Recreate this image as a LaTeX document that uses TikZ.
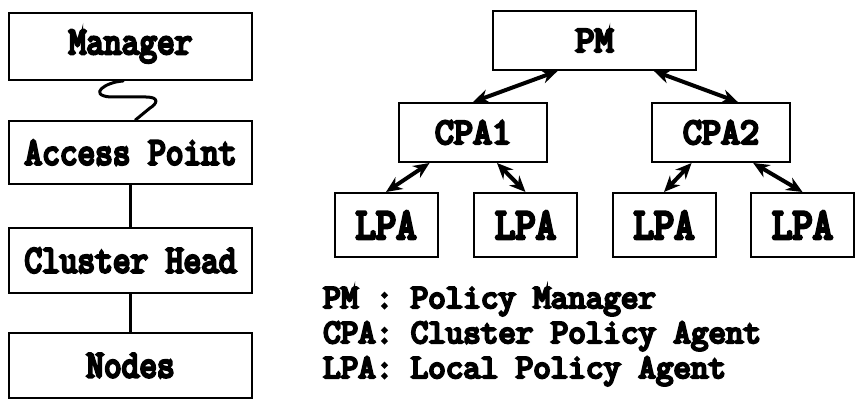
\documentclass[tikz,border=0pt]{standalone}
\usepackage{graphicx}
\usepackage{fontspec}
\usetikzlibrary{arrows.meta,calc}
% heavy typewriter face for all labels
\newfontfamily\heavytt[FakeBold=7]{Latin Modern Mono}
% condensed labels
\newcommand\squeezed[2]{\scalebox{#1}[1]{#2}}
\begin{document}
\begin{tikzpicture}[x=1pt,y=-1pt,
  box/.style={draw,line width=2pt,inner sep=0pt,align=center},
  leftbox/.style={box,minimum width=243pt,font=\heavytt\fontsize{39}{39}\selectfont},
  treebox/.style={box,minimum height=59pt,font=\heavytt\fontsize{37}{37}\selectfont},
  lpabox/.style={box,minimum width=103pt,minimum height=64pt,font=\heavytt\fontsize{44}{44}\selectfont},
  legend/.style={anchor=base west,inner sep=0pt,font=\heavytt\fontsize{34}{34}\selectfont},
  link/.style={line width=2.2pt},
  dual/.style={line width=4pt,{Stealth[length=16pt,width=14pt]}-{Stealth[length=16pt,width=14pt]}}]
\path[use as bounding box] (0,0) rectangle (863,409);

% management chain
\node[leftbox,minimum height=67pt] (mgr) at (130.5,46.5) {\squeezed{0.88}{Manager}};
\node[leftbox,minimum height=63pt] (ap)  at (130.5,152.5) {\squeezed{0.88}{Access Point}};
\node[leftbox,minimum height=65pt] (ch)  at (130.5,260.5) {\squeezed{0.88}{Cluster Head}};
\node[leftbox,minimum height=65pt] (nd)  at (130.5,365.5) {\squeezed{0.88}{Nodes}};

% wireless link between manager and access point
\coordinate (w1) at ($(mgr.south west)!0.47!(mgr.south east)$);
\coordinate (w2) at ($(ap.north west)!0.52!(ap.north east)$);
\draw[line width=3pt,line cap=round,line join=round] (w1) .. controls (105,82) and (88,95) .. (110,97)
  -- (146,97) .. controls (160,97) and (157,104) .. (150,108) -- (w2);
\draw[link] (ap) -- (ch);
\draw[link] (ch) -- (nd);

% policy hierarchy
\node[treebox,minimum width=203pt] (pm)   at (594.5,40.5) {PM};
\node[treebox,minimum width=148pt] (cpa1) at (473,132.5) {CPA1};
\node[treebox,minimum width=138pt] (cpa2) at (721,132.5) {CPA2};
\node[lpabox] (l1) at (386,225) {\squeezed{0.9}{LPA}};
\node[lpabox] (l2) at (525.5,225) {\squeezed{0.9}{LPA}};
\node[lpabox] (l3) at (664,225) {\squeezed{0.9}{LPA}};
\node[lpabox] (l4) at (802.5,225) {\squeezed{0.9}{LPA}};

\draw[dual] ($(pm.south west)!0.32!(pm.south east)$) -- (cpa1.north);
\draw[dual] ($(pm.south west)!0.79!(pm.south east)$) -- ($(cpa2.north west)!0.62!(cpa2.north east)$);
\draw[dual] ($(cpa1.south west)!0.21!(cpa1.south east)$) -- (l1.north);
\draw[dual] ($(cpa1.south west)!0.66!(cpa1.south east)$) -- (l2.north);
\draw[dual] ($(cpa2.south west)!0.29!(cpa2.south east)$) -- (l3.north);
\draw[dual] ($(cpa2.south west)!0.73!(cpa2.south east)$) -- (l4.north);

% abbreviations
\node[legend] (k1) at (323,308) {PM : Policy Manager};
\node[legend] (k2) at (323,343) {CPA: Cluster Policy Agent};
\node[legend] (k3) at (323,378) {LPA: Local Policy Agent};
\end{tikzpicture}
\end{document}
